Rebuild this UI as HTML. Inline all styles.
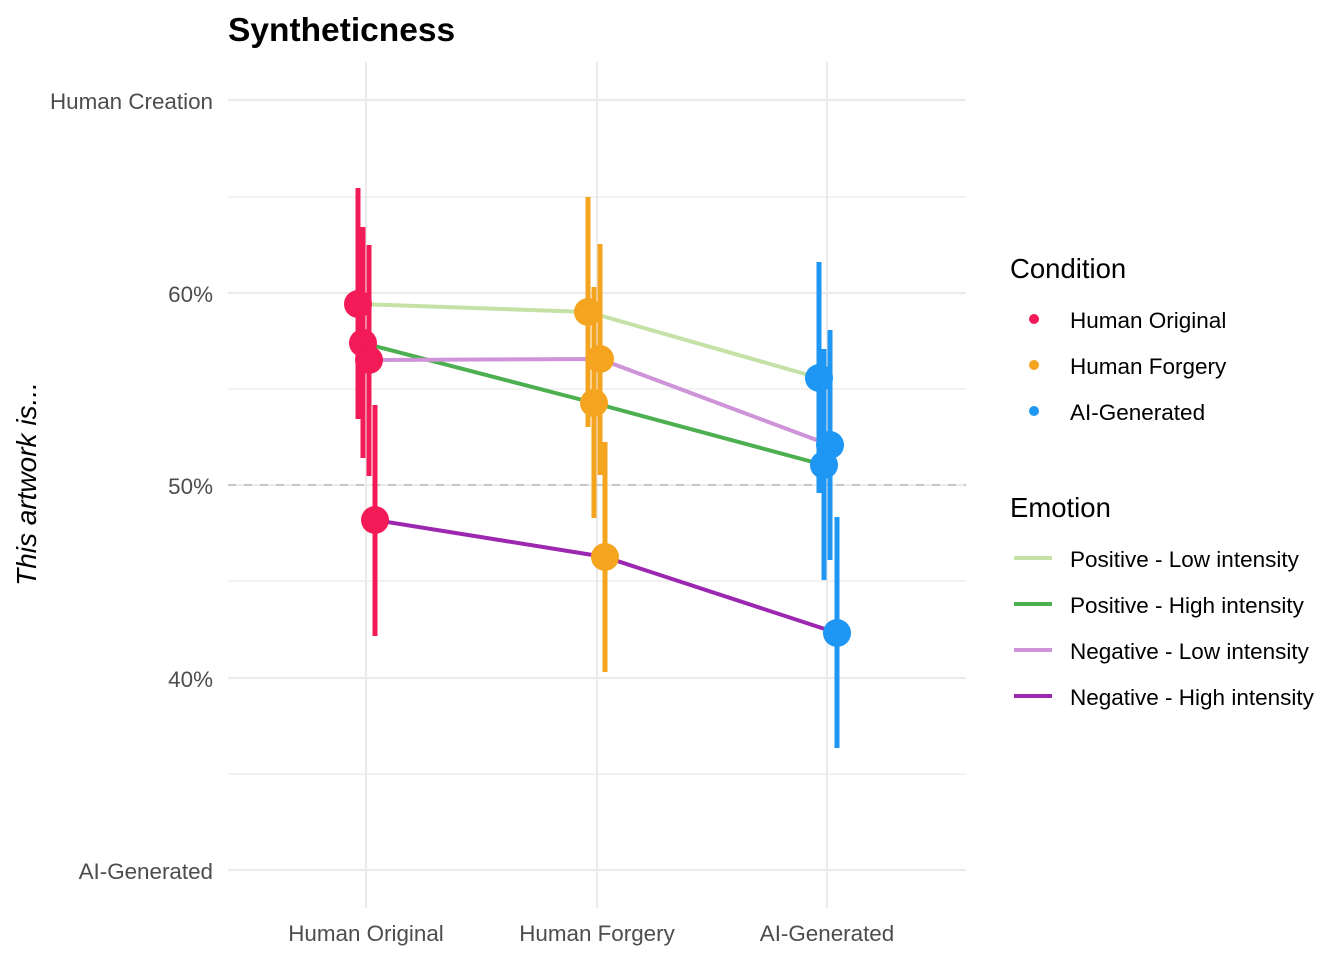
<!DOCTYPE html>
<html><head><style>body{margin:0;background:#fff}svg{display:block;font-family:"Liberation Sans",Arial,sans-serif}</style></head>
<body>
<svg width="1344" height="960" viewBox="0 0 1344 960" xmlns="http://www.w3.org/2000/svg">
<rect width="1344" height="960" fill="#fff"/>
<g stroke="#ebebeb" stroke-width="1.2">
<line x1="228" x2="966" y1="197" y2="197"/><line x1="228" x2="966" y1="389" y2="389"/><line x1="228" x2="966" y1="581" y2="581"/><line x1="228" x2="966" y1="774" y2="774"/>
</g>
<g stroke="#ebebeb" stroke-width="2.2">
<line x1="228" x2="966" y1="100" y2="100"/><line x1="228" x2="966" y1="293" y2="293"/><line x1="228" x2="966" y1="485" y2="485"/><line x1="228" x2="966" y1="678" y2="678"/><line x1="228" x2="966" y1="870" y2="870"/>
<line x1="366" x2="366" y1="62" y2="908"/><line x1="597" x2="597" y1="62" y2="908"/><line x1="827" x2="827" y1="62" y2="908"/>
</g>
<line x1="228" x2="966" y1="485" y2="485" stroke="#bdbdbd" stroke-width="1.5" stroke-dasharray="8,8"/>
<g fill="none" stroke-width="4">
<polyline stroke="#c5e1a5" points="358,304 588,312 819,378"/>
<polyline stroke="#4caf50" points="363,343 594,403 824,465"/>
<polyline stroke="#ce93d8" points="369,360 600,359 830,445"/>
<polyline stroke="#9c27b0" points="375,520 605,557 837,633"/>
</g>
<g stroke-width="5">
<g stroke="#f21b57"><line x1="358" x2="358" y1="188" y2="419"/><line x1="363" x2="363" y1="227" y2="458"/><line x1="369" x2="369" y1="245" y2="476"/><line x1="375" x2="375" y1="405" y2="636"/></g>
<g stroke="#f4a41f"><line x1="588" x2="588" y1="197" y2="427"/><line x1="594" x2="594" y1="287" y2="518"/><line x1="600" x2="600" y1="244" y2="475"/><line x1="605" x2="605" y1="442" y2="672"/></g>
<g stroke="#1e96f3"><line x1="819" x2="819" y1="262" y2="493"/><line x1="824" x2="824" y1="349" y2="580"/><line x1="830" x2="830" y1="330" y2="560"/><line x1="837" x2="837" y1="517" y2="748"/></g>
</g>
<g fill="#f21b57"><circle cx="358" cy="304" r="14"/><circle cx="363" cy="343" r="14"/><circle cx="369" cy="360" r="14"/><circle cx="375" cy="520" r="14"/></g>
<g fill="#f4a41f"><circle cx="588" cy="312" r="14"/><circle cx="594" cy="403" r="14"/><circle cx="600" cy="359" r="14"/><circle cx="605" cy="557" r="14"/></g>
<g fill="#1e96f3"><circle cx="819" cy="378" r="14"/><circle cx="824" cy="465" r="14"/><circle cx="830" cy="445" r="14"/><circle cx="837" cy="633" r="14"/></g>
<text x="228" y="41" font-size="33.5" font-weight="bold" fill="#000">Syntheticness</text>
<g font-size="22.4" fill="#4d4d4d" text-anchor="end">
<text x="213" y="109">Human Creation</text><text x="213" y="302">60%</text><text x="213" y="494">50%</text><text x="213" y="687">40%</text><text x="213" y="879">AI-Generated</text>
</g>
<g font-size="22.4" fill="#4d4d4d" text-anchor="middle">
<text x="366" y="941">Human Original</text><text x="597" y="941">Human Forgery</text><text x="827" y="941">AI-Generated</text>
</g>
<text transform="translate(36,484) rotate(-90)" font-size="28" font-style="italic" text-anchor="middle" fill="#000">This artwork is...</text>
<text x="1010" y="278" font-size="27.5" fill="#000">Condition</text>
<circle cx="1034" cy="319" r="5" fill="#f21b57"/><circle cx="1034" cy="365" r="5" fill="#f4a41f"/><circle cx="1034" cy="411" r="5" fill="#1e96f3"/>
<g font-size="22.5" fill="#000">
<text x="1070" y="328">Human Original</text><text x="1070" y="374">Human Forgery</text><text x="1070" y="420">AI-Generated</text>
</g>
<text x="1010" y="517" font-size="27.5" fill="#000">Emotion</text>
<g stroke-width="4">
<line x1="1014" x2="1052" y1="558" y2="558" stroke="#c5e1a5"/><line x1="1014" x2="1052" y1="604" y2="604" stroke="#4caf50"/><line x1="1014" x2="1052" y1="650" y2="650" stroke="#ce93d8"/><line x1="1014" x2="1052" y1="696" y2="696" stroke="#9c27b0"/>
</g>
<g font-size="22.5" fill="#000">
<text x="1070" y="567">Positive - Low intensity</text><text x="1070" y="613">Positive - High intensity</text><text x="1070" y="659">Negative - Low intensity</text><text x="1070" y="705">Negative - High intensity</text>
</g>
</svg>
</body></html>
